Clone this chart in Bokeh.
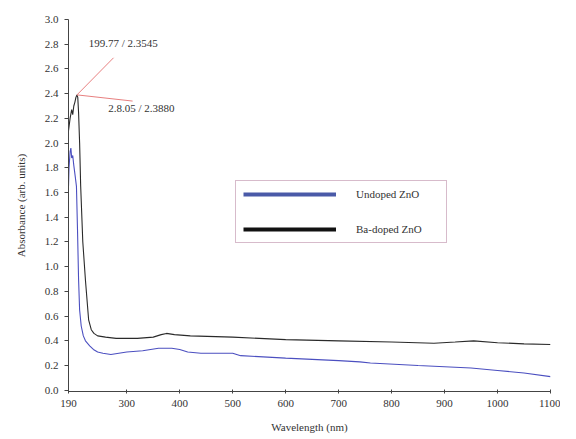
from bokeh.plotting import figure
from bokeh.models import Range1d, Legend, LegendItem, FixedTicker, CustomJSTickFormatter
from bokeh.core.properties import value
from bokeh.embed import file_html
from bokeh.resources import INLINE

# Undoped ZnO (blue)
wl_undoped = [190, 191, 193, 194.5, 196, 198, 200, 203, 205, 207, 209, 211, 214, 218, 222, 230, 237,
              245, 255, 270, 285, 300, 330, 360, 385, 400, 415, 440, 500, 515, 600, 700, 740, 760,
              850, 950, 1000, 1050, 1100]
abs_undoped = [1.65, 1.80, 1.93, 1.96, 1.88, 1.90, 1.82, 1.72, 1.65, 1.30, 0.90, 0.65, 0.52, 0.44,
               0.40, 0.36, 0.33, 0.31, 0.30, 0.29, 0.30, 0.31, 0.32, 0.34, 0.34, 0.33, 0.31, 0.30,
               0.30, 0.28, 0.26, 0.24, 0.23, 0.22, 0.20, 0.18, 0.16, 0.14, 0.11]

# Ba-doped ZnO (black)
wl_doped = [190, 193, 196, 198, 200, 202, 204, 206, 207.5, 209, 211, 213, 217, 222, 228, 233, 238,
            245, 260, 280, 320, 350, 365, 375, 390, 420, 500, 600, 700, 800, 880, 920, 955, 1000,
            1050, 1100]
abs_doped = [2.10, 2.20, 2.27, 2.23, 2.30, 2.33, 2.37, 2.39, 2.37, 2.25, 2.00, 1.65, 1.20, 0.89,
             0.57, 0.49, 0.46, 0.44, 0.43, 0.42, 0.42, 0.43, 0.45, 0.46, 0.45, 0.44, 0.43, 0.41,
             0.40, 0.39, 0.38, 0.39, 0.40, 0.385, 0.375, 0.37]

x_ticks = [190, 300, 400, 500, 600, 700, 800, 900, 1000, 1100]
y_ticks = [0.0, 0.2, 0.4, 0.6, 0.8, 1.0, 1.2, 1.4, 1.6, 1.8, 2.0, 2.2, 2.4, 2.6, 2.8, 3.0]

series_names = ["Undoped ZnO", "Ba-doped ZnO"]

# annotation: peak point, callout ends, label anchors, label texts
peak_point = (206, 2.39)
callout_ends = [(275, 2.69), (311, 2.34)]
callout_text_pos = [(228, 2.81), (265, 2.28)]
callout_texts = ["199.77 / 2.3545", "2.8.05 / 2.3880"]

FONT = "Liberation Serif, Times New Roman, serif"

p = figure(width=560, height=435, output_backend="svg", toolbar_location=None,
           x_range=Range1d(190, 1100), y_range=Range1d(-0.01, 3.0),
           min_border_left=68, min_border_right=10, min_border_top=19, min_border_bottom=44)
p.outline_line_color = None
p.xgrid.visible = False
p.ygrid.visible = False

p.line(wl_undoped, abs_undoped, line_color="#4b4fc0", line_width=1.1)
p.line(wl_doped, abs_doped, line_color="#2a2a2a", line_width=1.1)

for (ex, ey) in callout_ends:
    p.segment(x0=[peak_point[0]], y0=[peak_point[1]], x1=[ex], y1=[ey],
              line_color="#e88080", line_width=1)
p.text(x=[t[0] for t in callout_text_pos], y=[t[1] for t in callout_text_pos], text=callout_texts,
       text_font=value(FONT), text_font_size="11px", text_color="#333333",
       text_baseline="middle", text_align="left")

# legend proxies (thick lines, no visible data)
nan = float("nan")
leg_u = p.line([nan, nan], [nan, nan], line_color="#4a5aa8", line_width=4)
leg_d = p.line([nan, nan], [nan, nan], line_color="#111111", line_width=4)
legend = Legend(items=[LegendItem(label=series_names[0], renderers=[leg_u]),
                       LegendItem(label=series_names[1], renderers=[leg_d])],
                location=(167, 148), orientation="vertical",
                glyph_width=93, glyph_height=6, label_height=6, label_width=83,
                label_standoff=20, spacing=23, padding=7, margin=0,
                border_line_color="#b07898", border_line_width=1,
                label_text_font=FONT, label_text_font_size="11px", label_text_color="#333333",
                background_fill_alpha=1)
p.add_layout(legend, "center")

for ax in (p.xaxis[0], p.yaxis[0]):
    ax.axis_line_color = "#444444"
    ax.major_tick_line_color = "#444444"
    ax.minor_tick_line_color = None
    ax.major_label_text_font = FONT
    ax.major_label_text_font_size = "11px"
    ax.major_label_text_color = "#333333"
    ax.axis_label_text_font = FONT
    ax.axis_label_text_font_size = "11px"
    ax.axis_label_text_font_style = "normal"
    ax.axis_label_text_color = "#333333"

p.xaxis.ticker = FixedTicker(ticks=x_ticks)
p.yaxis.ticker = FixedTicker(ticks=y_ticks)
p.yaxis.formatter = CustomJSTickFormatter(code="return tick.toFixed(1);")
p.xaxis.major_tick_in = 2
p.xaxis.major_tick_out = 2
p.yaxis.major_tick_in = 0
p.yaxis.major_tick_out = 4
p.xaxis.major_label_standoff = 6
p.yaxis.major_label_standoff = 6
p.xaxis.axis_label = "Wavelength (nm)"
p.yaxis.axis_label = "Absorbance (arb. units)"
p.xaxis.axis_label_standoff = 11
p.yaxis.axis_label_standoff = 15

open("out.html", "w").write(file_html(p, INLINE))
